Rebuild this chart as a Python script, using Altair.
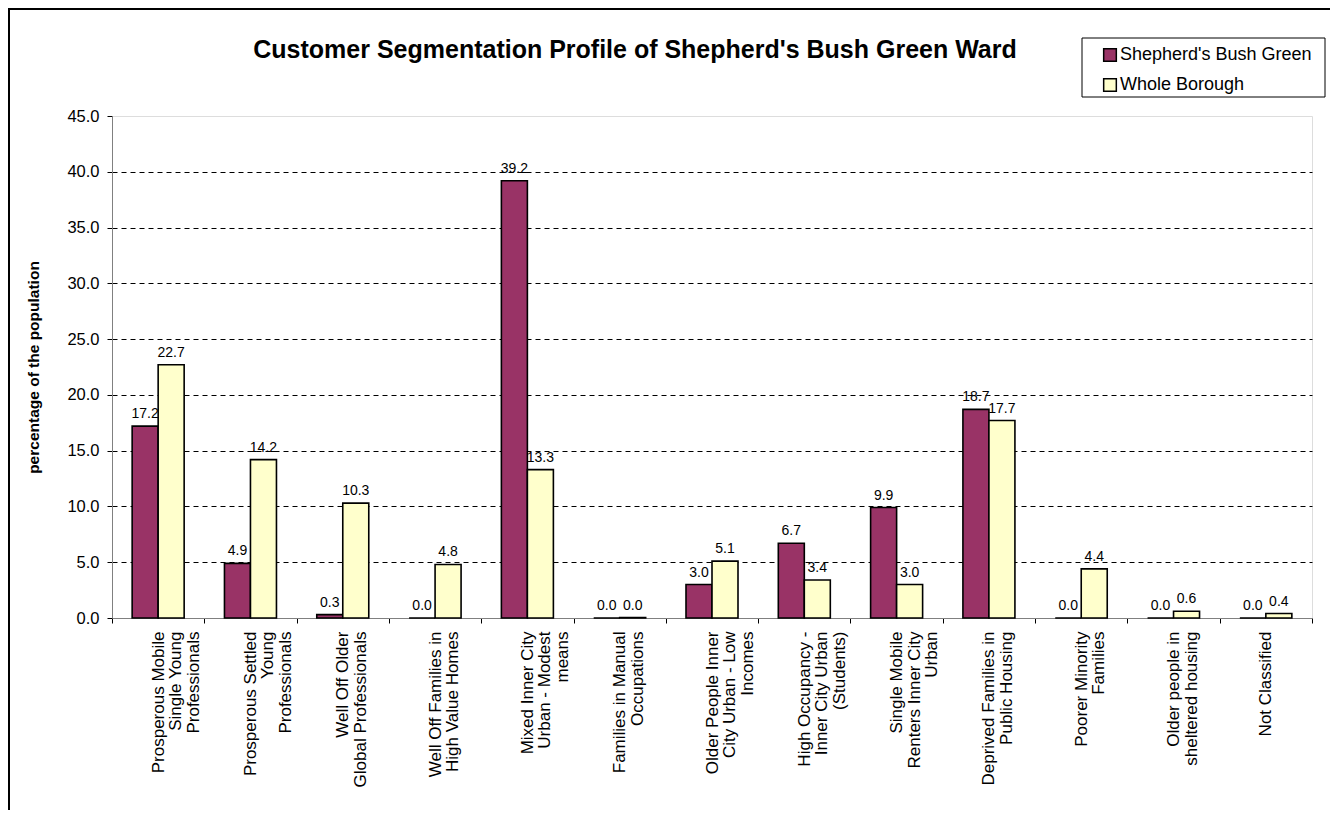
import altair as alt
import pandas as pd

categories = [
    "Prosperous Mobile|Single Young|Professionals",
    "Prosperous Settled|Young|Professionals",
    "Well Off Older|Global Professionals",
    "Well Off Families in|High Value Homes",
    "Mixed Inner City|Urban - Modest|means",
    "Families in Manual|Occupations",
    "Older People Inner|City Urban - Low|Incomes",
    "High Occupancy -|Inner City Urban|(Students)",
    "Single Mobile|Renters Inner City|Urban",
    "Deprived Families in|Public Housing",
    "Poorer Minority|Families",
    "Older people in|sheltered housing",
    "Not Classified",
]
ward_values = [17.2, 4.9, 0.3, 0.0, 39.2, 0.0, 3.0, 6.7, 9.9, 18.7, 0.0, 0.0, 0.0]
borough_values = [22.7, 14.2, 10.3, 4.8, 13.3, 0.04, 5.1, 3.4, 3.0, 17.7, 4.4, 0.6, 0.4]
series_names = ["Shepherd's Bush Green", "Whole Borough"]
series_colors = ["#993366", "#FFFFCC"]
y_ticks = [0, 5, 10, 15, 20, 25, 30, 35, 40, 45]
chart_title = "Customer Segmentation Profile of Shepherd's Bush Green Ward"

rows = []
for i, c in enumerate(categories):
    rows.append({"cat": c, "series": series_names[0], "value": ward_values[i]})
    rows.append({"cat": c, "series": series_names[1], "value": borough_values[i]})
df = pd.DataFrame(rows)

FONT = "Liberation Sans, Arial, sans-serif"

x_enc = alt.X(
    "cat:N",
    sort=categories,
    scale=alt.Scale(paddingInner=0, paddingOuter=0),
    axis=alt.Axis(
        title=None,
        labelExpr="split(datum.label, '|')",
        labelAngle=270,
        labelAlign="right",
        labelBaseline="middle",
        labelFont=FONT,
        labelFontSize=17,
        labelColor="#000000",
        labelLineHeight=17.5,
        labelPadding=8,
        labelLimit=400,
        tickBand="extent",
        tickColor="#000000",
        tickSize=5,
        domainColor="#808080",
        grid=False,
        labelOverlap=False,
    ),
)
xoff_enc = alt.XOffset(
    "series:N",
    sort=series_names,
    scale=alt.Scale(paddingInner=0, paddingOuter=0.775),
)
y_scale = alt.Scale(domain=[0, 45], nice=False)

bars = alt.Chart(df).mark_bar(stroke="#000000", strokeWidth=1.6).encode(
    x=x_enc,
    xOffset=xoff_enc,
    y=alt.Y(
        "value:Q",
        scale=y_scale,
        axis=alt.Axis(
            title="percentage of the population",
            titleFont=FONT,
            titleFontSize=15.5,
            titleFontWeight="bold",
            titleColor="#000000",
            titleX=-79,
            titleY=251,
            titleAngle=270,
            titleAlign="center",
            titleBaseline="middle",
            values=y_ticks,
            format=".1f",
            labelFont=FONT,
            labelFontSize=16.5,
            labelColor="#000000",
            labelPadding=8,
            tickColor="#000000",
            tickSize=5,
            domainColor="#808080",
            grid=True,
            gridDash=[5, 4],
            gridColor={
                "condition": {"test": "datum.value >= 45 || datum.value <= 0", "value": "transparent"},
                "value": "#000000",
            },
            gridWidth=1,
        ),
    ),
    color=alt.Color(
        "series:N",
        sort=series_names,
        scale=alt.Scale(domain=series_names, range=series_colors),
        legend=alt.Legend(
            title=None,
            orient="none",
            legendX=989,
            legendY=-70,
            symbolType="square",
            symbolSize=160,
            symbolStrokeColor="#000000",
            symbolStrokeWidth=1.5,
            labelFont=FONT,
            labelFontSize=18,
            labelColor="#000000",
            labelOffset=1,
            labelLimit=400,
            rowPadding=10,
            padding=0,
        ),
    ),
)

labels = alt.Chart(df).mark_text(
    baseline="bottom", dy=-5, font=FONT, fontSize=14, color="#000000"
).encode(
    x=alt.X("cat:N", sort=categories),
    xOffset=alt.XOffset("series:N", sort=series_names),
    y=alt.Y("value:Q", scale=y_scale),
    text=alt.Text("value:Q", format=".1f"),
)

one = pd.DataFrame({"k": [0]})

legend_box = alt.Chart(one).mark_rect(
    fill="#FFFFFF", stroke="#000000", strokeWidth=1
).encode(
    x=alt.value(970), x2=alt.value(1213), y=alt.value(-78), y2=alt.value(-19)
)

title_text = alt.Chart(one).mark_text(
    text=chart_title, font=FONT, fontSize=25, fontWeight="bold",
    color="#000000", align="center", baseline="alphabetic",
).encode(x=alt.value(523), y=alt.value(-58))

frame_left = alt.Chart(one).mark_rule(
    color="#000000", strokeWidth=2
).encode(x=alt.value(-103), y=alt.value(-108), y2=alt.value(700))
frame_top = alt.Chart(one).mark_rule(
    color="#000000", strokeWidth=2
).encode(x=alt.value(-104), x2=alt.value(1230), y=alt.value(-107))

chart = alt.layer(legend_box, bars, labels, title_text, frame_left, frame_top).properties(
    width=1200,
    height=502,
    padding={"left": 104, "top": 108, "right": 18, "bottom": 192},
    autosize=alt.AutoSizeParams(type="none"),
).configure_view(
    stroke="#808080", strokeWidth=1
).configure(background="#FFFFFF")

chart.save("out.html", embed_options={"renderer": "svg", "actions": False})
